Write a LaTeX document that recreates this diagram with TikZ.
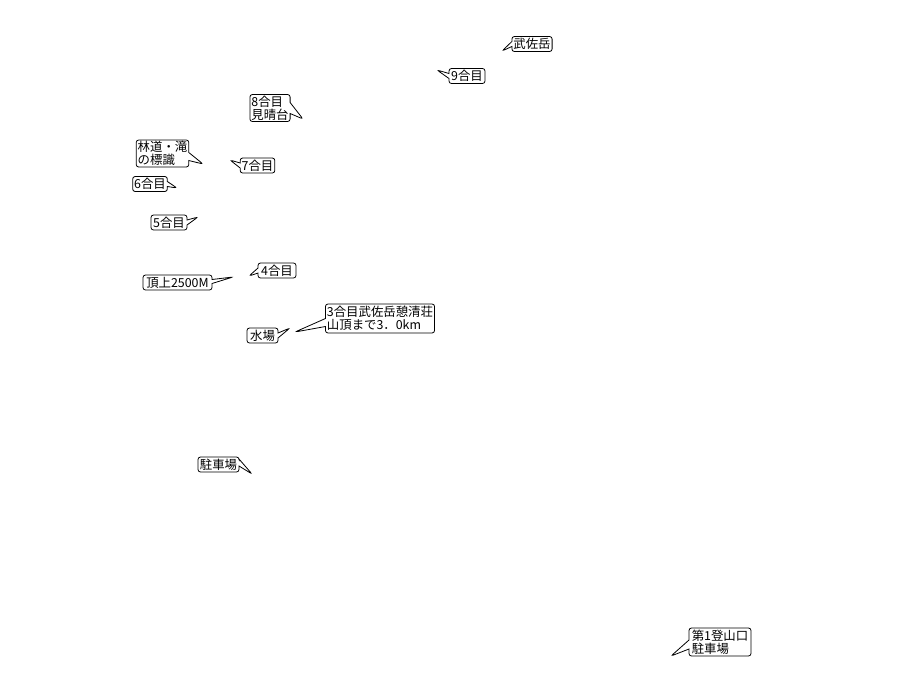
\documentclass[tikz,border=0pt]{standalone}
\usepackage{fontspec}
\setmainfont{Noto Sans CJK JP}
\usetikzlibrary{shapes.callouts}
\tikzset{
  co/.style={rectangle callout, draw=black, fill=white, line width=0.8pt,
    rounded corners=2.5pt, inner xsep=1.5pt, inner ysep=1pt, minimum height=15pt,
    font=\fontsize{12.4}{13}\selectfont, align=left, callout pointer width=5pt},
}
\begin{document}
\begin{tikzpicture}[x=1pt,y=-1pt]
\useasboundingbox (0,0) rectangle (897,697);
\fill[white] (0,0) rectangle (897,697);
% tips
\coordinate (t1) at (502,51);
\coordinate (t2) at (437,70);
\coordinate (t3) at (303,119);
\coordinate (t4) at (203,164);
\coordinate (t5) at (230,160);
\coordinate (t6) at (177,188);
\coordinate (t7) at (198,217);
\coordinate (t8) at (233,277);
\coordinate (t9) at (249,276);
\coordinate (t10) at (290,328);
\coordinate (t11) at (295,332);
\coordinate (t12) at (252,474);
\coordinate (t13) at (671,656);
% callouts
\node[co, minimum width=38pt, callout absolute pointer={(t1)}] (n1) at (532,44) {武佐岳};
\node[co, minimum width=36pt, callout absolute pointer={(t2)}] (n2) at (467,76) {9合目};
\node[co, minimum width=40pt, minimum height=27pt, callout pointer width=11pt, callout absolute pointer={(t3)}] (n3) at (270,108) {8合目\\見晴台};
\node[co, minimum width=49pt, minimum height=27pt, callout pointer width=8pt, callout absolute pointer={(t4)}] (n4) at (162.5,153.5) {林道・滝\\の標識};
\node[co, minimum width=33pt, callout absolute pointer={(t5)}] (n5) at (257.5,165.5) {7合目};
\node[co, minimum width=34pt, callout absolute pointer={(t6)}] (n6) at (150,184) {6合目};
\node[co, minimum width=36pt, callout absolute pointer={(t7)}] (n7) at (169,222.5) {5合目};
\node[co, minimum width=69pt, callout pointer width=4pt, callout absolute pointer={(t8)}] (n8) at (177.5,282.5) {頂上2500M};
\node[co, minimum width=38pt, callout absolute pointer={(t9)}] (n9) at (277,270.5) {4合目};
\node[co, minimum width=31pt, callout absolute pointer={(t10)}] (n10) at (262.5,335.5) {水場};
\node[co, minimum width=108pt, minimum height=29pt, callout pointer width=8pt, callout absolute pointer={(t11)}] (n11) at (380,318.5) {3合目武佐岳憩清荘\\山頂まで3．0km};
\node[co, minimum width=41pt, callout pointer width=7pt, callout absolute pointer={(t12)}] (n12) at (218.5,464.5) {駐車場};
\node[co, minimum width=62pt, minimum height=28pt, callout pointer width=9pt, callout absolute pointer={(t13)}] (n13) at (720,642) {第1登山口\\駐車場};
\end{tikzpicture}
\end{document}
